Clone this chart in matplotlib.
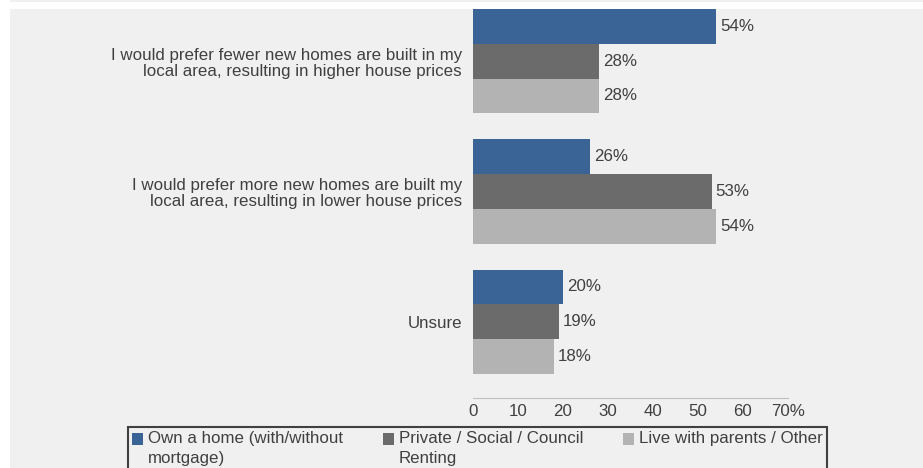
import numpy as np
import matplotlib
matplotlib.use('Agg')
import matplotlib.pyplot as plt
from matplotlib.patches import Rectangle
from matplotlib.legend_handler import HandlerPatch

plt.rcParams['font.family'] = ['Liberation Sans', 'DejaVu Sans']

# data
categories = ['I would prefer fewer new homes are built in my\nlocal area, resulting in higher house prices',
              'I would prefer more new homes are built my\nlocal area, resulting in lower house prices',
              'Unsure']
own_home = [54, 26, 20]
renting = [28, 53, 19]
parents_other = [28, 54, 18]
series_names = ['Own a home (with/without\nmortgage)', 'Private / Social / Council\nRenting',
                'Live with parents / Other\n ']
xticks = [0, 10, 20, 30, 40, 50, 60, 70]
xtick_labels = ['0', '10', '20', '30', '40', '50', '60', '70%']

colors = ['#3a6495', '#6b6b6b', '#b3b3b3']
bg = '#f0f0f0'
text_col = '#404040'
fs = 12.2

W, H = 923, 468
fig = plt.figure(figsize=(W / 100, H / 100), dpi=100)
fig.patch.set_facecolor('white')
# grey panel, cropped top strip
fig.patches.append(Rectangle((10 / W, 0), 1, (H - 9) / H, transform=fig.transFigure,
                             facecolor=bg, edgecolor='none', zorder=-10))
fig.patches.append(Rectangle((10 / W, (H - 2) / H), 1, 2 / H, transform=fig.transFigure,
                             facecolor=bg, edgecolor='none', zorder=-10))
# legend box, runs off the bottom of the picture
fig.patches.append(Rectangle((128 / W, -0.05), (827 - 128) / W, (H - 427) / H + 0.05,
                             transform=fig.transFigure, facecolor='none',
                             edgecolor='#404040', linewidth=1.5, zorder=-5))

ax = fig.add_axes([473 / W, (H - 398) / H, (788 - 473) / W, (398 - 9) / H])
ax.set_facecolor('none')

y = np.arange(len(categories))
h = 0.267
handles = []
for i, vals in enumerate([own_home, renting, parents_other]):
    bars = ax.barh(y - h + i * h, vals, height=h, color=colors[i])
    ax.bar_label(bars, labels=[f'{v}%' for v in vals], padding=3, fontsize=fs, color=text_col)
    handles.append(bars.patches[0])

ax.set_ylim(2.585, -0.4)
ax.set_xlim(0, 70)
ax.set_yticks(y)
ax.set_yticklabels(categories, fontsize=fs, color=text_col, linespacing=1.1)
ax.tick_params(axis='y', length=0, pad=8)
ax.set_xticks(xticks)
ax.set_xticklabels(xtick_labels, fontsize=fs, color=text_col)
ax.tick_params(axis='x', length=0, pad=4)
ax.set_xticks([0, 70], minor=True)
ax.tick_params(axis='x', which='minor', direction='in', length=5, color='#bfbfbf')

for s in ['top', 'right', 'left']:
    ax.spines[s].set_visible(False)
ax.spines['bottom'].set_color('#bfbfbf')


# legend squares sit on the first line of the label
def top_square(legend, orig_handle, xdescent, ydescent, width, height, fontsize):
    return Rectangle((-xdescent, -ydescent + 0.57 * fontsize), width, height)


leg = fig.legend(handles, series_names, loc='upper left', ncol=3, mode='expand',
                 bbox_to_anchor=(128 / W, (H - 427) / H, (827 - 128) / W, 0),
                 borderaxespad=0, fontsize=fs, frameon=False,
                 handlelength=0.65, handleheight=0.65, handletextpad=0.3, borderpad=0.25,
                 labelcolor=text_col, handler_map={Rectangle: HandlerPatch(patch_func=top_square)})
for t in leg.get_texts():
    t.set_linespacing(1.4)

fig.savefig('out.png', dpi=100, facecolor=fig.get_facecolor())
